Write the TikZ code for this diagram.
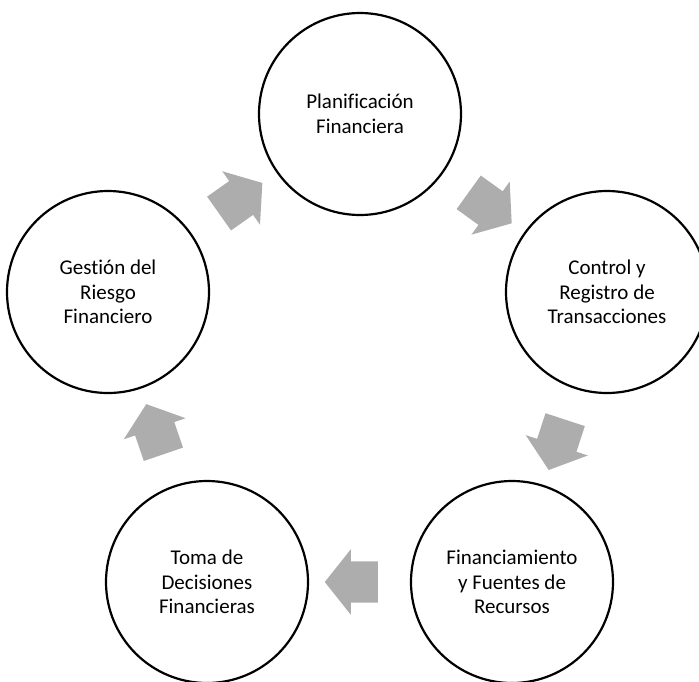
\documentclass[tikz,border=0pt]{standalone}
\usepackage{fontspec}
\setmainfont{Carlito}[Ligatures=CommonOff]
\usetikzlibrary{shapes.arrows}
\definecolor{ink}{HTML}{000000}
\definecolor{arrowgray}{HTML}{ADADAD}
\tikzset{
  phase/.style={
    circle,
    draw=ink,
    line width=2.2pt,
    minimum size=202pt,
    inner sep=0pt,
    text=ink,
    font=\fontsize{21}{24.5}\selectfont,
    align=center
  },
  flow/.style={
    single arrow,
    fill=arrowgray,
    draw=none,
    minimum height=53pt,
    inner xsep=0pt,
    inner ysep=20.5pt,
    single arrow head extend=12pt,
    single arrow tip angle=103,
    sloped,
    allow upside down
  }
}
\begin{document}
\begin{tikzpicture}[x=1pt,y=-1pt]
  \useasboundingbox (0,0) rectangle (699,681);

  % Cycle stages
  \node[phase] (plan) at (360,114) {Planificación\\Financiera};
  \node[phase] (control) at (607,292) {Control y\\Registro de\\Transacciones};
  \node[phase] (funding) at (512,582) {Financiamiento\\y Fuentes de\\Recursos};
  \node[phase] (decide) at (207,582) {Toma de\\Decisiones\\Financieras};
  \node[phase] (risk) at (108,292) {Gestión del\\Riesgo\\Financiero};

  % Block arrows between stages
  \path (plan) -- node[flow, midway] (a1) {} (control);
  \path (control) -- node[flow, midway] (a2) {} (funding);
  \path (funding) -- node[flow, midway] (a3) {} (decide);
  \path (decide) -- node[flow, midway] (a4) {} (risk);
  \path (risk) -- node[flow, midway] (a5) {} (plan);
\end{tikzpicture}
\end{document}
